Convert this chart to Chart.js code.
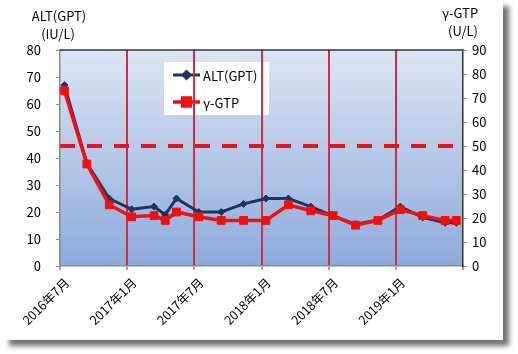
<!DOCTYPE html>
<html>
<head>
<meta charset="utf-8">
<script src="https://cdn.jsdelivr.net/npm/chart.js@4/dist/chart.umd.min.js"></script>
<style>
  html, body { margin: 0; padding: 0; background: #fff; width: 518px; height: 354px; overflow: hidden; }
  .card { position: absolute; left: 3px; top: 0; width: 500px; height: 340px; background: #fff;
          box-shadow: 6px 6px 5px rgba(0,0,0,0.55); }
</style>
</head>
<body>
<div class="card"><canvas id="liverChart" width="500" height="340"></canvas></div>
<script>
// months since 2016/7 for each test
const months = [0.4, 2.4, 4.4, 6.4, 8.4, 9.4, 10.4, 12.4, 14.4, 16.4, 18.4, 20.4, 22.4, 24.4, 26.4, 28.4, 30.4, 32.4, 34.4, 35.4];
const altValues = [67, 38, 25, 21, 22, 19, 25, 20, 20, 23, 25, 25, 22, 18.5, 15.5, 17, 22, 18, 16, 16];
const gtpValues = [73, 42.5, 25.5, 20.5, 21, 19, 22.5, 20.5, 19, 19, 19, 25.5, 23, 21, 17, 19, 23.5, 21, 19, 19];
const tickLabels = ['2016年7月', '2017年1月', '2017年7月', '2018年1月', '2018年7月', '2019年1月', ''];
const gtpLimit = 50;
const monthRange = [0, 36];

const FONT = "'Noto Sans CJK JP', sans-serif";

const toPoints = (xs, ys) => xs.map((x, i) => ({ x: x, y: ys[i] }));

// gradient plot background + legend box (under grid lines like the original)
const backPlugin = {
  id: 'backPlugin',
  beforeDraw(chart) {
    const { ctx, chartArea: a } = chart;
    ctx.save();
    const g = ctx.createLinearGradient(0, a.top, 0, a.bottom);
    g.addColorStop(0, '#dce5f4');
    g.addColorStop(1, '#8eaadc');
    ctx.fillStyle = g;
    ctx.fillRect(a.left, a.top, a.right - a.left, a.bottom - a.top);

    // legend
    const lx = a.left + 104, ly = a.top + 12;
    ctx.fillStyle = '#fff';
    ctx.fillRect(lx, ly, 105, 53);
    const sets = chart.data.datasets.slice(0, 2);
    sets.forEach((ds, i) => {
      const y = ly + 13 + i * 27;
      ctx.strokeStyle = ds.borderColor;
      ctx.lineWidth = ds.borderWidth;
      ctx.beginPath();
      ctx.moveTo(lx + 9, y);
      ctx.lineTo(lx + 36, y);
      ctx.stroke();
      Chart.helpers.drawPoint(ctx, {
        pointStyle: ds.pointStyle, radius: ds.pointRadius, borderWidth: 1, rotation: 0
      }, lx + 22.5, y);
      ctx.fillStyle = ds.pointBackgroundColor;
      ctx.fill();
      ctx.fillStyle = '#000';
      ctx.font = '13px ' + FONT;
      ctx.textBaseline = 'middle';
      ctx.textAlign = 'left';
      ctx.fillText(ds.label, lx + 39, y + 1);
    });

    // axis titles
    ctx.fillStyle = '#000';
    ctx.font = '13px ' + FONT;
    ctx.textAlign = 'center';
    ctx.fillText('ALT(GPT)', 56, 16);
    ctx.fillText('(IU/L)', 55, 34);
    ctx.fillText('γ-GTP', 457, 13);
    ctx.fillText('(U/L)', 460, 31);
    ctx.restore();
  },
  beforeDatasetsDraw(chart) {
    const { ctx, chartArea: a } = chart;
    ctx.save();
    ctx.strokeStyle = '#333';
    ctx.lineWidth = 1.5;
    ctx.beginPath();
    ctx.moveTo(a.left, a.top);
    ctx.lineTo(a.right, a.top);
    ctx.stroke();
    ctx.restore();
  }
};

const ctx = document.getElementById('liverChart').getContext('2d');
new Chart(ctx, {
  type: 'line',
  data: {
    datasets: [
      {
        label: 'ALT(GPT)',
        data: toPoints(months, altValues),
        yAxisID: 'y',
        borderColor: '#1b365f',
        backgroundColor: '#1b365f',
        pointBackgroundColor: '#1b365f',
        borderWidth: 3,
        pointStyle: 'rectRot',
        pointRadius: 3.5,
        pointBorderWidth: 1,
        tension: 0,
        order: 2
      },
      {
        label: 'γ-GTP',
        data: toPoints(months, gtpValues),
        yAxisID: 'y1',
        borderColor: '#f01010',
        backgroundColor: '#f01010',
        pointBackgroundColor: '#f01010',
        borderWidth: 3.5,
        pointStyle: 'rect',
        pointRadius: 5.5,
        pointBorderWidth: 1,
        tension: 0,
        order: 1
      },
      {
        label: 'limit',
        data: toPoints(monthRange, [gtpLimit, gtpLimit]),
        yAxisID: 'y1',
        borderColor: '#e8141b',
        borderWidth: 4,
        borderDash: [15, 12],
        pointRadius: 0,
        order: 3
      }
    ]
  },
  options: {
    responsive: false,
    animation: false,
    layout: { padding: { top: 50, left: 0, right: 0, bottom: 0 } },
    plugins: { legend: { display: false }, tooltip: { enabled: false } },
    scales: {
      x: {
        type: 'linear',
        min: 0,
        max: 36,
        afterFit: (s) => { s.height = 74; },
        ticks: {
          stepSize: 6,
          minRotation: 45,
          maxRotation: 45,
          padding: 5,
          labelOffset: 7,
          color: '#000',
          font: { family: FONT, size: 12.5 },
          callback: (v) => tickLabels[Math.round(v / 6)]
        },
        grid: {
          // no red line on the two frame edges
          color: (c) => (c.index === 0 || c.index === 6) ? 'rgba(0,0,0,0)' : '#cc3040',
          lineWidth: 2,
          tickColor: '#c89a7a',
          tickLength: 4
        },
        border: { display: true, color: '#8a8a8a', width: 1.5 }
      },
      y: {
        position: 'left',
        min: 0,
        max: 80,
        afterFit: (s) => { s.width = 57; },
        ticks: { stepSize: 10, padding: 15, color: '#000', font: { family: FONT, size: 13 } },
        grid: { drawOnChartArea: false, tickLength: 4, color: '#8a8a8a' },
        border: { display: true, color: '#8a8a8a', width: 1.5 }
      },
      y1: {
        position: 'right',
        min: 0,
        max: 90,
        afterFit: (s) => { s.width = 40; },
        ticks: { stepSize: 10, padding: 5, color: '#000', font: { family: FONT, size: 13 } },
        grid: { drawOnChartArea: false, tickLength: 4, color: '#8a8a8a' },
        border: { display: true, color: '#333', width: 1.5 }
      }
    }
  },
  plugins: [backPlugin]
});
</script>
</body>
</html>
